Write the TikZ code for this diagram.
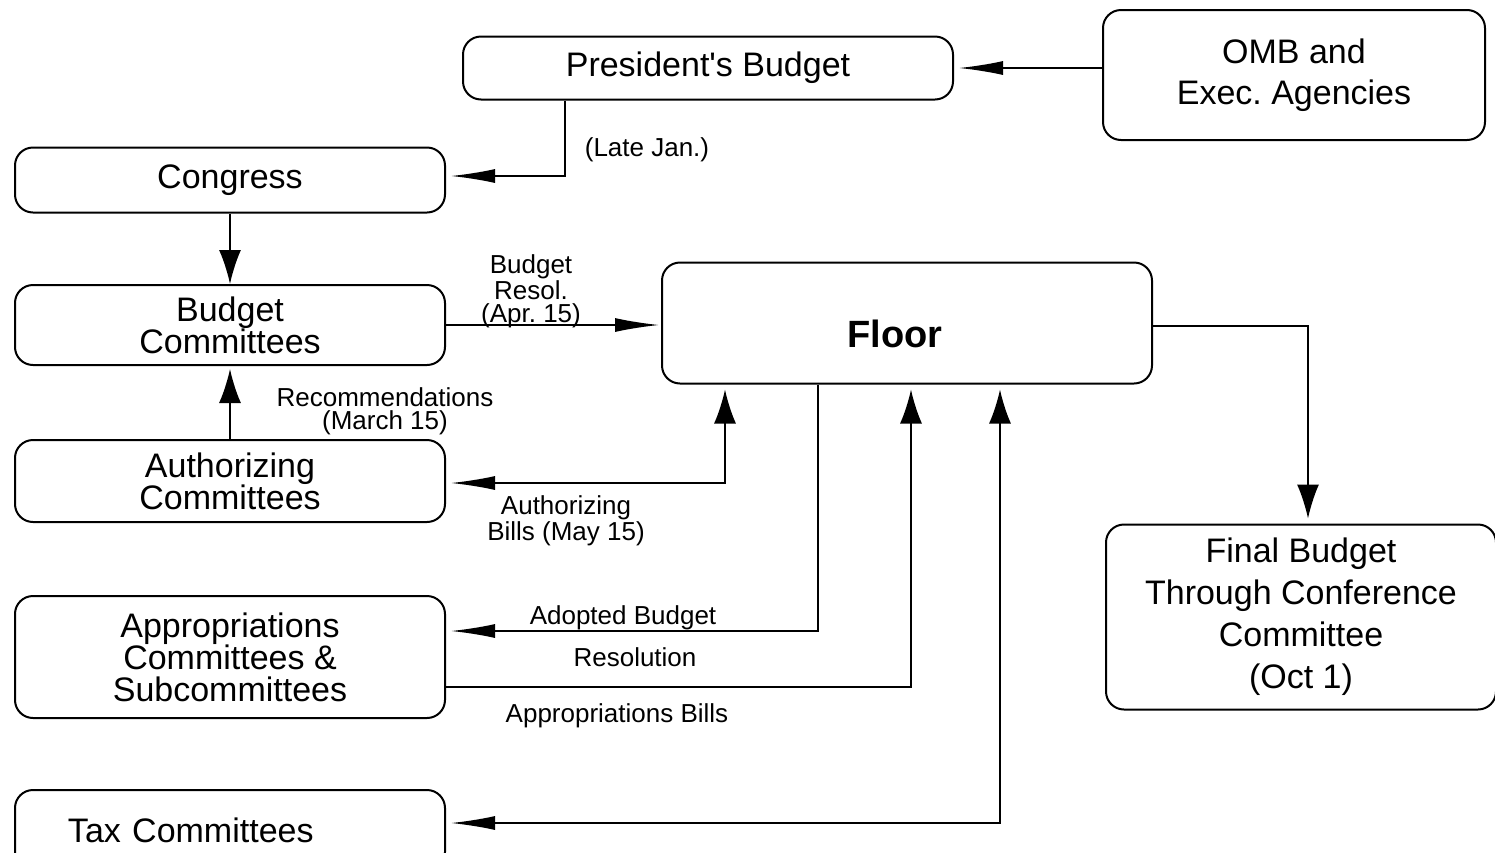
\documentclass[tikz,border=0pt]{standalone}
\usepackage{fontspec}
\setmainfont{Liberation Sans}
\usetikzlibrary{arrows.meta}
\frenchspacing

\begin{document}
\begin{tikzpicture}[x=0.5pt,y=-0.5pt]
	\useasboundingbox (0,0) rectangle (1495,852);
	\begin{scope}[every node/.style={draw,line width=1pt,rounded corners=9pt,align=center,inner sep=0pt,
	              font=\fontsize{17}{16}\selectfont}]
	    \node[minimum width=245pt,minimum height=31.5pt] (pres) at (708,68) {President\textquotesingle s Budget};
	    \node[minimum width=191pt,minimum height=65pt,font=\fontsize{17}{20.5}\selectfont] (omb) at (1294,75) {OMB and\\Exec. Agencies};
	    \node[minimum width=215pt,minimum height=32.5pt] (congress) at (230,180) {Congress};
	    \node[minimum width=215pt,minimum height=40pt] (budcom) at (230,325) {Budget\\Committees};
	    \node[minimum width=215pt,minimum height=41pt] (authcom) at (230,481) {Authorizing\\Committees};
	    \node[minimum width=215pt,minimum height=61pt] (approp) at (230,657) {Appropriations\\Committees \&\\Subcommittees};
	    \node[text width=162pt,align=left,inner xsep=26.5pt,minimum height=40pt] (tax) at (230,830) {Tax Committees};
	    \node[minimum width=245pt,minimum height=60.5pt,text height=24.5pt,text depth=0pt,
	          font=\fontsize{19}{22}\selectfont\bfseries] (floor) at (907,323) {Floor\hspace*{12pt}};
	    \node[minimum width=195pt,minimum height=92.5pt,font=\fontsize{17}{21}\selectfont] (final) at (1301,617) {Final Budget\\Through Conference\\Committee\\(Oct 1)};
	\end{scope}

	\begin{scope}[>={Latex[length=22pt,width=7pt]},
	              vtip/.tip={Latex[length=17pt,width=11pt]},
	              line width=0.8pt,
	              every node/.style={align=center,inner sep=0pt,font=\fontsize{13}{11.5}\selectfont}]
	    \draw[->,shorten >=2.5pt] (omb.west |- pres.east) -- (pres.east);
	    \draw[->,shorten >=2.5pt] ([xshift=-71.5pt]pres.south) |- ([yshift=2pt]congress.east);
	    \node (late) at (647,150) {(Late Jan.)};
	    \draw[-vtip] (congress.south) -- (budcom.north);
	    \draw[->,shorten >=1pt] (budcom.east) -- (budcom.east -| floor.west);
	    \node (resol) at (531,291) {Budget\\Resol.\\(Apr. 15)};
	    \draw[-vtip,shorten >=1.5pt] (authcom.north) -- (budcom.south);
	    \node (recom) at (385,411) {Recommendations\\(March 15)};
	    \draw[vtip->,shorten <=2.5pt,shorten >=2.5pt] ([xshift=-91pt]floor.south) |- ([yshift=-1pt]authcom.east);
	    \node (authbill) at (566,521) {Authorizing\\Bills (May 15)};
	    \draw[->,shorten >=2.5pt] ([xshift=-44.5pt]floor.south) |- ([yshift=13pt]approp.east);
	    \node (adopted) at (623,618) {Adopted Budget};
	    \node (resolut) at (635,657) {Resolution};
	    \draw[-vtip,shorten >=2.5pt] ([yshift=-15pt]approp.east) -| ([xshift=2pt]floor.south);
	    \node (appbill) at (617,716) {Appropriations Bills};
	    \draw[vtip->,shorten <=2.5pt,shorten >=2.5pt] ([xshift=46.5pt]floor.south) |- ([yshift=3.5pt]tax.east);
	    \draw[-vtip,shorten >=2.5pt] ([yshift=-1.5pt]floor.east) -| ([xshift=3.5pt]final.north);
	\end{scope}
\end{tikzpicture}
\end{document}
